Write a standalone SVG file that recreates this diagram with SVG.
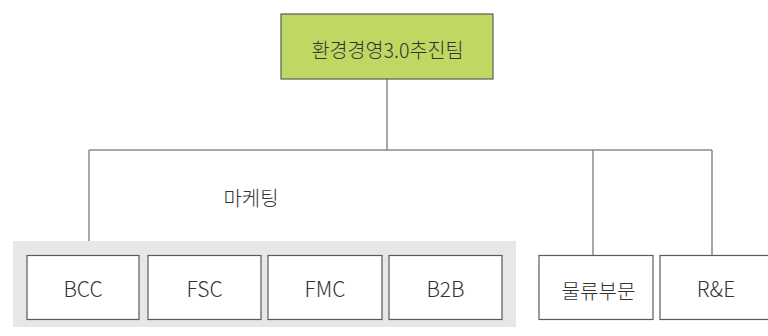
<svg xmlns="http://www.w3.org/2000/svg" width="768" height="336" viewBox="0 0 768 336">
<style>
.box{fill:#fff;stroke:#5a5a5a;stroke-width:1.2}
.top{fill:#bfd862;stroke:#5a5a5a;stroke-width:1.2}
.t{font-family:"Noto Sans CJK KR","Liberation Sans",sans-serif;font-size:20px;font-weight:300;fill:#333;text-anchor:middle}
.l{font-size:21px}
.c{fill:none;stroke:#8a8a8a;stroke-width:1.5}
</style>
<rect width="768" height="336" fill="#fff"/>
<rect id="marketing-area" x="13" y="241" width="503" height="86" fill="#e6e7e8"/>
<g id="connectors">
<path class="c" d="M387 79V150M89 150H712M89 150V241M593 150V255M712 150V255"/>
</g>
<g id="n-top"><rect class="top" x="281" y="14" width="212" height="65"/><text class="t" x="387.5" y="57.5" textLength="152" lengthAdjust="spacingAndGlyphs">환경경영3.0추진팀</text></g>
<g id="n-marketing"><text class="t" x="251" y="205.5" textLength="55" lengthAdjust="spacingAndGlyphs">마케팅</text></g>
<g id="n-bcc"><rect class="box" x="27" y="255.5" width="112" height="64"/><text class="t l" x="83" y="297">BCC</text></g>
<g id="n-fsc"><rect class="box" x="148" y="255.5" width="113" height="64"/><text class="t l" x="204.5" y="297">FSC</text></g>
<g id="n-fmc"><rect class="box" x="268" y="255.5" width="114" height="64"/><text class="t l" x="325" y="297">FMC</text></g>
<g id="n-b2b"><rect class="box" x="389" y="255.5" width="113" height="64"/><text class="t l" x="445.5" y="297">B2B</text></g>
<g id="n-logistics"><rect class="box" x="539" y="255.5" width="114" height="64"/><text class="t" x="598.5" y="298.5" textLength="74" lengthAdjust="spacingAndGlyphs">물류부문</text></g>
<g id="n-re"><rect class="box" x="660" y="255.5" width="113" height="64"/><text class="t l" x="716" y="297">R&amp;E</text></g>
</svg>
